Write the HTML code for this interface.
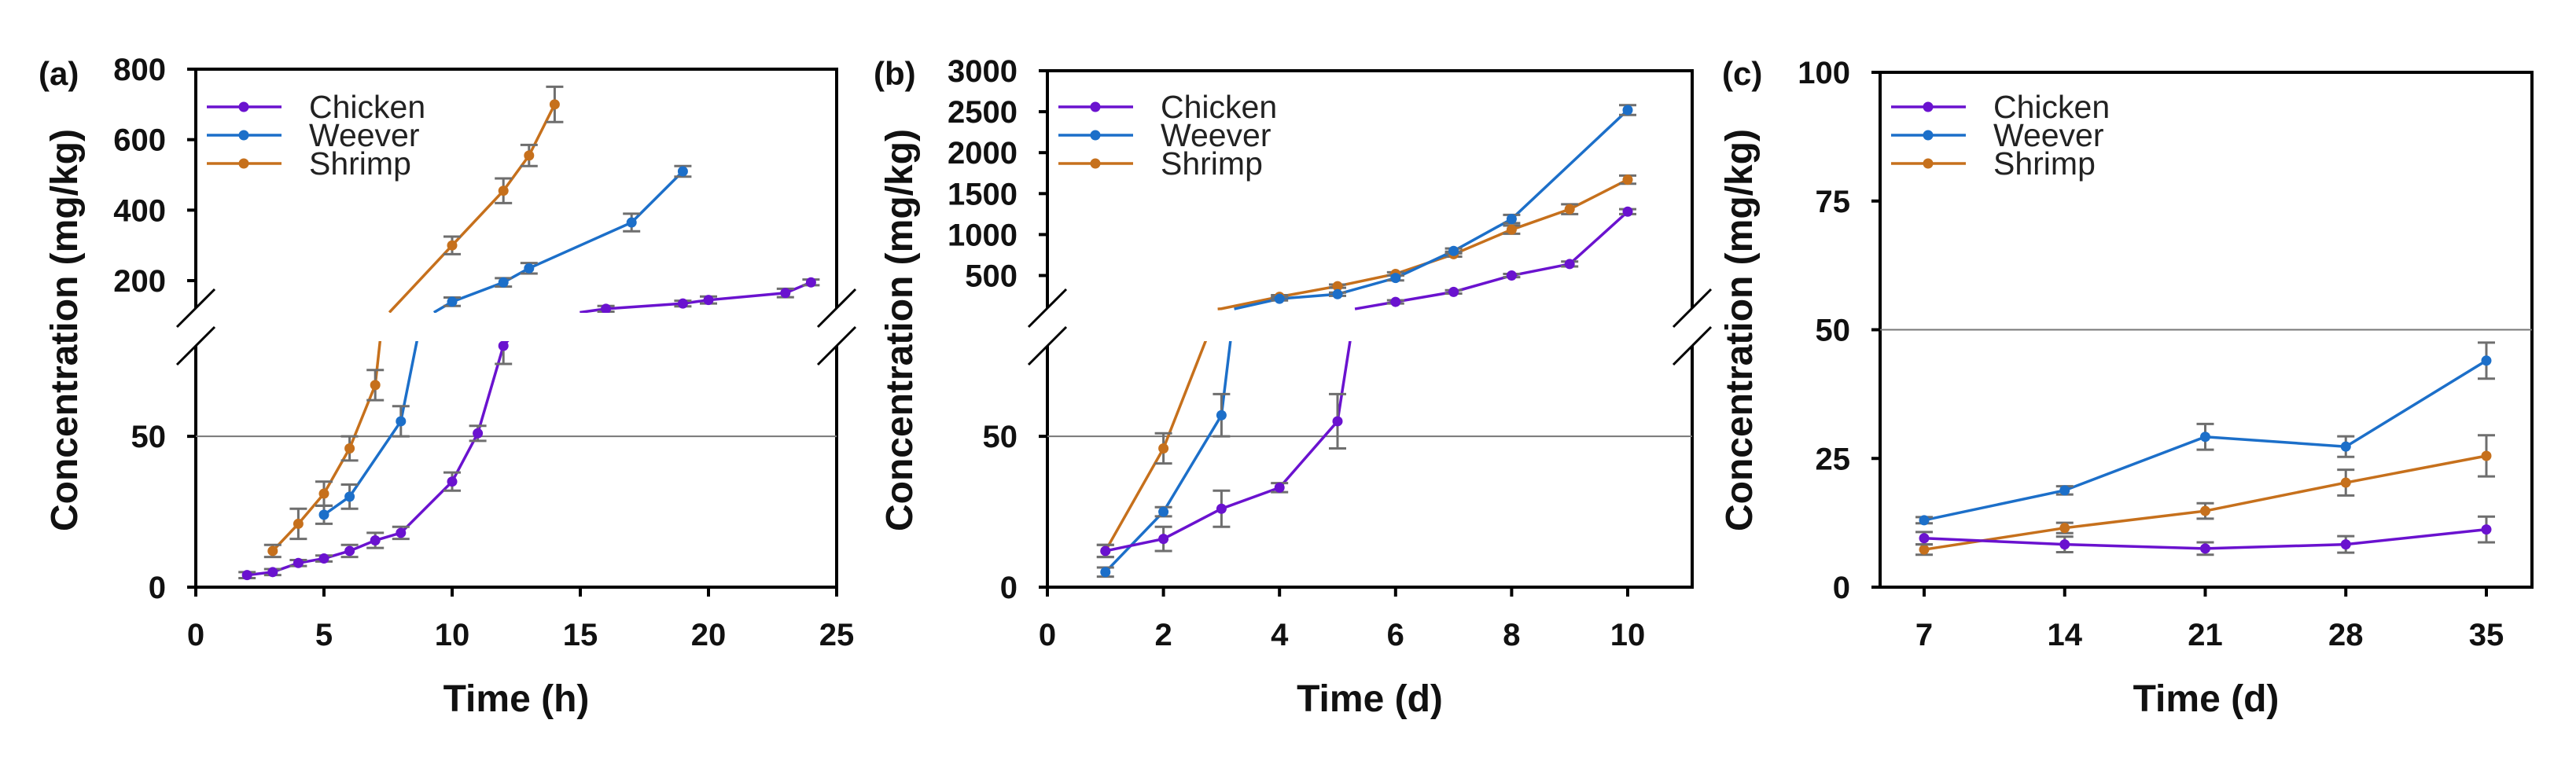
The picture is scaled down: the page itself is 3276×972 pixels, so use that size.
<!DOCTYPE html>
<html><head><meta charset="utf-8">
<style>
html,body{margin:0;padding:0;background:#fff;}
svg{display:block;}
text{font-family:"Liberation Sans",Arial,sans-serif;}
</style></head>
<body>
<svg id="chart" width="3276" height="972" viewBox="0 0 3276 972" xmlns="http://www.w3.org/2000/svg"></svg>
<script>
// ---------- Panel (a) data : time (h) ----------
const aChickenX = [2,3,4,5,6,7,8,10,11,12,16,19,20,23,24];
const aChickenY = [4,5,8,9.5,12,15.5,18,35,51,80,120,135,145,165,195];
const aChickenE = [1,1,1,1,2,2.5,2,3,2.5,6,8,8,10,12,8];
const aWeeverX = [5,6,8,10,12,13,17,19];
const aWeeverY = [24,30,55,140,195,235,365,510];
const aWeeverE = [3,4,5,12,12,15,25,15];
const aShrimpX = [3,4,5,6,7,10,12,13,14];
const aShrimpY = [12,21,31,46,67,300,455,555,700];
const aShrimpE = [2,5,4,4,5,25,35,30,50];
const aXTicks = [0,5,10,15,20,25];
const aLowTicks = [0,50];
const aHighTicks = [200,400,600,800];
// ---------- Panel (b) data : time (d) ----------
const bChickenX = [1,2,3,4,5,6,7,8,9,10];
const bChickenY = [12,16,26,33,55,178,300,500,640,1280];
const bChickenE = [2,4,6,1.5,9,20,20,20,30,30];
const bWeeverX = [1,2,3,4,5,6,7,8,10];
const bWeeverY = [5,25,57,216,272,470,800,1190,2520];
const bWeeverE = [1.5,1.5,7,20,20,30,30,50,60];
const bShrimpX = [1,2,3,4,5,6,7,8,9,10];
const bShrimpY = [12,46,95,240,370,520,760,1060,1310,1670];
const bShrimpE = [2,5,5,20,20,20,30,50,60,50];
const bXTicks = [0,2,4,6,8,10];
const bLowTicks = [0,50];
const bHighTicks = [500,1000,1500,2000,2500,3000];
// ---------- Panel (c) data : time (d) ----------
const cX = [7,14,21,28,35];
const cChickenY = [9.5,8.3,7.5,8.3,11.2];
const cChickenE = [1.2,1.5,1.2,1.6,2.5];
const cWeeverY = [13,18.8,29.2,27.3,44];
const cWeeverE = [0.6,0.8,2.5,2,3.5];
const cShrimpY = [7.3,11.5,14.8,20.3,25.5];
const cShrimpE = [1,1,1.5,2.5,4];
const cXTicks = [7,14,21,28,35];
const cYTicks = [0,25,50,75,100];

const COL = {chicken:'#6a12cf', weever:'#1c6fc9', shrimp:'#c6701c'};
const NS = 'http://www.w3.org/2000/svg';
const svg = document.getElementById('chart');
let clipId = 0;
function el(tag, attrs, parent){
  const e = document.createElementNS(NS, tag);
  for(const k in attrs) e.setAttribute(k, attrs[k]);
  (parent||svg).appendChild(e);
  return e;
}
function txt(s, attrs, parent){ const t = el('text', attrs, parent); t.textContent = s; return t; }

function drawSeries(g, name, xs, ys, es, xf, yf, color, show){
  const sg = el('g', {}, g);
  
  
  if(xs.length > 1){
    const pts = xs.map((x,i)=>xf(x)+','+yf(ys[i])).join(' ');
    const pl = el('polyline', {points:pts, fill:'none', stroke:color, 'stroke-width':3.5}, sg);
    
    
  }
  xs.forEach((x,i)=>{
    if(show && !show[i]) return;
    const cx = xf(x), top = yf(ys[i]+es[i]), bot = yf(ys[i]-es[i]);
    const eb = el('path', {d:`M${cx},${top}V${bot}M${cx-11},${top}H${cx+11}M${cx-11},${bot}H${cx+11}`, stroke:'#6e6e6e', 'stroke-width':3, fill:'none'}, sg);
    
    
    const c = el('circle', {cx:cx, cy:yf(ys[i]), r:6.5, fill:color}, sg);
    
    
  });
}

function legend(ax){
  const lg = el('g', {});
  
  
  const items = [['Chicken',COL.chicken],['Weever',COL.weever],['Shrimp',COL.shrimp]];
  items.forEach((it,i)=>{
    const y = 136 + i*36;
    const e = el('g', {}, lg);
    
    
    el('line', {x1:ax+14, x2:ax+109, y1:y, y2:y, stroke:it[1], 'stroke-width':3.5}, e);
    el('circle', {cx:ax+61, cy:y, r:6.5, fill:it[1]}, e);
    txt(it[0], {x:ax+144, y:y+14, 'font-size':41, fill:'#222'}, e);
  });
}

function frameAndLabels(p){
  const g = el('g', {});
  
  
  txt(p.letter, {x:p.letterX, y:108, 'font-size':42, 'font-weight':'bold', fill:'#111'}, g);
  const yt = txt('Concentration (mg/kg)', {x:0, y:0, 'font-size':48, 'font-weight':'bold', 'text-anchor':'middle', fill:'#111', transform:`translate(${p.ytX},420) rotate(-90)`}, g);
  
  
  const xt = txt(p.xTitle, {x:(p.L+p.R)/2, y:905, 'font-size':48, 'font-weight':'bold', 'text-anchor':'middle', fill:'#111'}, g);
  
  
  return g;
}

function breakPanel(p){
  const g = frameAndLabels(p);
  const L=p.L, R=p.R, B=747, T=p.T, gapTop=392, gapBot=440;
  const low = v => B - (v/80)*(B-gapBot);
  const high = v => gapTop - (v-p.hMin)/(p.hMax-p.hMin)*(gapTop-T);
  const xf = x => L + (x-p.xMin)/(p.xMax-p.xMin)*(p.xEnd-L);
  el('path', {d:`M${L},${gapTop}V${T}H${R}V${gapTop}M${L},${gapBot}V${B}H${R}V${gapBot}`, fill:'none', stroke:'#000', 'stroke-width':4}, g);
  [L,R].forEach(ax=>{
    [gapTop, gapBot].forEach(yy=>{
      const s = el('line', {x1:ax-24, y1:yy+24, x2:ax+24, y2:yy-24, stroke:'#000', 'stroke-width':3}, g);
      
      
    });
  });
  const th = el('line', {x1:L, x2:R, y1:low(50), y2:low(50), stroke:'#777', 'stroke-width':2}, g);
  
  
  p.xTicks.forEach(t=>{
    el('line', {x1:xf(t), x2:xf(t), y1:B, y2:B+12, stroke:'#000', 'stroke-width':4}, g);
    txt(String(t), {x:xf(t), y:821, 'font-size':40, 'font-weight':'bold', 'text-anchor':'middle', fill:'#111'}, g);
  });
  p.lowTicks.forEach(t=>{
    el('line', {x1:L-11, x2:L, y1:low(t), y2:low(t), stroke:'#000', 'stroke-width':4}, g);
    txt(String(t), {x:L-38, y:low(t)+14, 'font-size':40, 'font-weight':'bold', 'text-anchor':'end', fill:'#111'}, g);
  });
  p.highTicks.forEach(t=>{
    el('line', {x1:L-11, x2:L, y1:high(t), y2:high(t), stroke:'#000', 'stroke-width':4}, g);
    txt(String(t), {x:L-38, y:high(t)+14, 'font-size':40, 'font-weight':'bold', 'text-anchor':'end', fill:'#111'}, g);
  });
  const defs = el('defs', {});
  const c1 = 'c'+(clipId++), c2 = 'c'+(clipId++);
  const cp1 = el('clipPath', {id:c1}, defs); el('rect', {x:L+2, y:gapBot-6, width:R-L-4, height:B-gapBot+4}, cp1);
  const cp2 = el('clipPath', {id:c2}, defs); el('rect', {x:L+2, y:T+2, width:R-L-4, height:gapTop-T+4}, cp2);
  const gl = el('g', {'clip-path':`url(#${c1})`});
  
  
  const gh = el('g', {'clip-path':`url(#${c2})`});
  
  
  const entry = p.hMin * 0.9; // value at which the upper-segment line begins
  p.series.forEach(s=>{
    const [name, xs, ys, es, col] = s;
    let lEnd = ys.findIndex(v=>v>80);
    lEnd = lEnd < 0 ? ys.length : lEnd + 1;
    const lx = xs.slice(0,lEnd), ly = ys.slice(0,lEnd), le = es.slice(0,lEnd);
    drawSeries(gl, name, lx, ly, le, xf, low, col, ly.map(v=>v<=82));
    const uStart = ys.findIndex(v=>v>=entry);
    if(uStart >= 0){
      let ux = xs.slice(uStart), uy = ys.slice(uStart), ue = es.slice(uStart);
      let show = uy.map(v=>v>=p.hMin-6);
      if(uStart > 0){
        const x0=xs[uStart-1], y0=ys[uStart-1], x1=xs[uStart], y1=ys[uStart];
        const xe = x0 + (entry-y0)/(y1-y0)*(x1-x0);
        ux = [xe].concat(ux); uy = [entry].concat(uy); ue = [0].concat(ue); show = [false].concat(show);
      }
      drawSeries(gh, name, ux, uy, ue, xf, high, col, show);
    }
  });
  legend(L);
}

breakPanel({id:'panel-a', letter:'(a)', letterX:49, ytX:98, xTitle:'Time (h)',
  L:249, R:1064, T:88, xMin:0, xMax:25, xEnd:1064, hMin:122, hMax:800,
  xTicks:aXTicks, lowTicks:aLowTicks, highTicks:aHighTicks,
  series:[['shrimp',aShrimpX,aShrimpY,aShrimpE,COL.shrimp],['weever',aWeeverX,aWeeverY,aWeeverE,COL.weever],['chicken',aChickenX,aChickenY,aChickenE,COL.chicken]]});

breakPanel({id:'panel-b', letter:'(b)', letterX:1111, ytX:1160, xTitle:'Time (d)',
  L:1332, R:2152, T:90, xMin:0, xMax:10, xEnd:2070, hMin:102, hMax:3000,
  xTicks:bXTicks, lowTicks:bLowTicks, highTicks:bHighTicks,
  series:[['shrimp',bShrimpX,bShrimpY,bShrimpE,COL.shrimp],['weever',bWeeverX,bWeeverY,bWeeverE,COL.weever],['chicken',bChickenX,bChickenY,bChickenE,COL.chicken]]});

(function(){
  const p = {id:'panel-c', letter:'(c)', letterX:2190, ytX:2228, xTitle:'Time (d)', L:2391, R:3220};
  const g = frameAndLabels(p);
  const B=747, T=92;
  const yf = v => B - v/100*(B-T);
  const xf = x => 2447 + (x-7)/28*(3162-2447);
  el('rect', {x:p.L, y:T, width:p.R-p.L, height:B-T, fill:'none', stroke:'#000', 'stroke-width':4}, g);
  const th = el('line', {x1:p.L, x2:p.R, y1:yf(50), y2:yf(50), stroke:'#777', 'stroke-width':2}, g);
  
  
  cXTicks.forEach(t=>{
    el('line', {x1:xf(t), x2:xf(t), y1:B, y2:B+12, stroke:'#000', 'stroke-width':4}, g);
    txt(String(t), {x:xf(t), y:821, 'font-size':40, 'font-weight':'bold', 'text-anchor':'middle', fill:'#111'}, g);
  });
  cYTicks.forEach(t=>{
    el('line', {x1:p.L-11, x2:p.L, y1:yf(t), y2:yf(t), stroke:'#000', 'stroke-width':4}, g);
    txt(String(t), {x:p.L-38, y:yf(t)+14, 'font-size':40, 'font-weight':'bold', 'text-anchor':'end', fill:'#111'}, g);
  });
  const gp = el('g', {});
  
  
  drawSeries(gp, 'shrimp', cX, cShrimpY, cShrimpE, xf, yf, COL.shrimp);
  drawSeries(gp, 'weever', cX, cWeeverY, cWeeverE, xf, yf, COL.weever);
  drawSeries(gp, 'chicken', cX, cChickenY, cChickenE, xf, yf, COL.chicken);
  legend(p.L);
})();
</script>
</body></html>
